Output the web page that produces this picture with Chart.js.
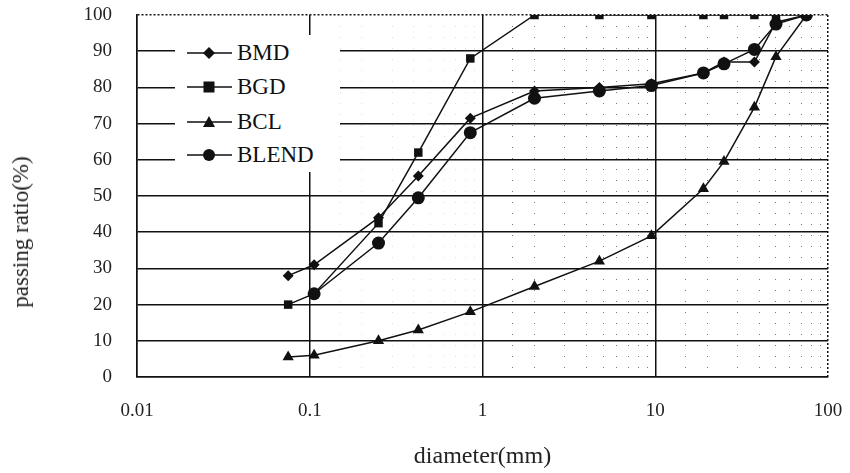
<!DOCTYPE html>
<html>
<head>
<meta charset="utf-8">
<script src="https://cdn.jsdelivr.net/npm/chart.js@4/dist/chart.umd.min.js"></script>
<style>
    html, body { margin: 0; padding: 0; background: #fff; }
    #wrap { position: relative; width: 850px; height: 473px; }
    #yTitle {
        position: absolute; left: 21px; top: 232px;
        transform: translate(-50%, -50%) rotate(-90deg);
        font: 23px 'Liberation Serif', serif; color: #222; white-space: nowrap;
    }
    #legend {
        position: absolute; left: 175px; top: 35px; width: 165px; height: 137px;
        background: #fff; font: 23px 'Liberation Serif', serif; color: #111;
    }
    .row { position: absolute; left: 12px; height: 24px; display: flex; align-items: center; }
    .row svg { margin-right: 5px; }
</style>
</head>
<body>
<div id="wrap">
    <canvas id="gradation" width="850" height="473"></canvas>
    <div id="yTitle">passing ratio(%)</div>
    <div id="legend"></div>
</div>
<script>
// ===== 입도 분포 데이터 =====
const sieveSizes = [0.075, 0.106, 0.25, 0.425, 0.85, 2, 4.75, 9.5, 19, 25, 37.5, 50, 75];
const bmdPassing = [28, 31, 44, 55.5, 71.5, 79, 80, 81, 84, 87, 87, 98, 100];
const bgdPassing = [20, 23, 42.5, 62, 88, 100, 100, 100, 100, 100, 100, 100, 100];
const bclPassing = [5.5, 6, 10, 13, 18, 25, 32, 39, 52, 59.5, 74.5, 88.5, 100];
const blendPassing = [null, 23, 37, 49.5, 67.5, 77, 79, 80.5, 84, 86.5, 90.5, 97.5, 100];
const seriesNames = ['BMD', 'BGD', 'BCL', 'BLEND'];
const pointStyles = ['rectRot', 'rect', 'triangle', 'circle'];
const xTickLabels = ['0.01', '0.1', '1', '10', '100'];
const yTicks = [0, 10, 20, 30, 40, 50, 60, 70, 80, 90, 100];

const serif = "'Liberation Serif', 'Times New Roman', serif";
const allSeries = [bmdPassing, bgdPassing, bclPassing, blendPassing];
const radii = [5.5, 6, 6.5, 6.5];

const datasets = allSeries.map((vals, i) => ({
    label: seriesNames[i],
    data: sieveSizes.map((d, k) => ({ x: d, y: vals[k] })),
    borderColor: '#111',
    backgroundColor: '#111',
    borderWidth: 1.5,
    pointStyle: pointStyles[i],
    pointRadius: radii[i],
    pointBorderWidth: 0,
    spanGaps: false,
    tension: 0,
}));

function decadeIndex(v) {
    const l = Math.log10(v);
    return Math.abs(l - Math.round(l)) < 1e-6 ? Math.round(l) + 2 : -1;
}

new Chart(document.getElementById('gradation'), {
    type: 'line',
    data: { datasets },
    options: {
        responsive: false,
        animation: false,
        layout: { padding: { left: 0, right: 22, top: 15, bottom: 0 } },
        plugins: { legend: { display: false }, tooltip: { enabled: false } },
        scales: {
            x: {
                type: 'logarithmic',
                min: 0.01,
                max: 100,
                afterFit: s => {
                    s.height = 96;
                    s.paddingLeft = 0; s.paddingRight = 0;
                },
                ticks: {
                    autoSkip: false,
                    maxRotation: 0,
                    padding: 23,
                    color: '#222',
                    font: { family: serif, size: 19 },
                    callback: v => {
                        const i = decadeIndex(v);
                        return i >= 0 ? xTickLabels[i] : '';
                    },
                },
                grid: {
                    drawTicks: false,
                    color: ctx => {
                        const v = ctx.tick ? ctx.tick.value : 0;
                        if (decadeIndex(v) >= 0) return '#111';
                        if (v >= 1) return '#777';
                        if (v > 0.1) return '#ddd';
                        return 'rgba(0,0,0,0)';
                    },
                    lineWidth: ctx => (ctx.tick && decadeIndex(ctx.tick.value) >= 0 ? 1.5 : 1),
                },
                border: {
                    color: '#111',
                    width: 1.5,
                    dash: ctx => {
                        const v = ctx.tick ? ctx.tick.value : 0;
                        if (v >= 99) return [2, 2];
                        return decadeIndex(v) >= 0 ? [] : [1, 10];
                    },
                },
                title: {
                    display: true,
                    text: 'diameter(mm)',
                    color: '#222',
                    font: { family: serif, size: 24 },
                    padding: { top: 0, bottom: 2 },
                },
            },
            y: {
                min: 0,
                max: 100,
                afterFit: s => {
                    s.width = 137;
                    s.paddingTop = 0; s.paddingBottom = 0;
                },
                afterBuildTicks: s => { s.ticks = yTicks.map(v => ({ value: v })); },
                ticks: {
                    padding: 25,
                    color: '#222',
                    font: { family: serif, size: 19 },
                },
                grid: {
                    drawTicks: false,
                    color: '#111',
                    lineWidth: 1.5,
                },
                border: {
                    color: '#111',
                    width: 1.5,
                    dash: ctx => (ctx.tick && ctx.tick.value === 100 ? [2, 2] : []),
                },
            },
        },
    },
});

// 범례: 선 + 마커 (HTML)
const markerSvg = [
    '<polygon points="22,6 28,12 22,18 16,12"/>',
    '<rect x="16.5" y="6.5" width="11" height="11"/>',
    '<polygon points="22,6 28,17 16,17"/>',
    '<circle cx="22" cy="12" r="6"/>',
];
const legendRowsTop = [6, 40, 75, 108];
document.getElementById('legend').innerHTML = seriesNames.map((name, i) =>
    `<div class="row" style="top:${legendRowsTop[i]}px">` +
    `<svg width="45" height="24"><line x1="0" y1="12" x2="45" y2="12" stroke="#111" stroke-width="1.5"/>` +
    `<g fill="#111">${markerSvg[i]}</g></svg>${name}</div>`
).join('');
</script>
</body>
</html>
